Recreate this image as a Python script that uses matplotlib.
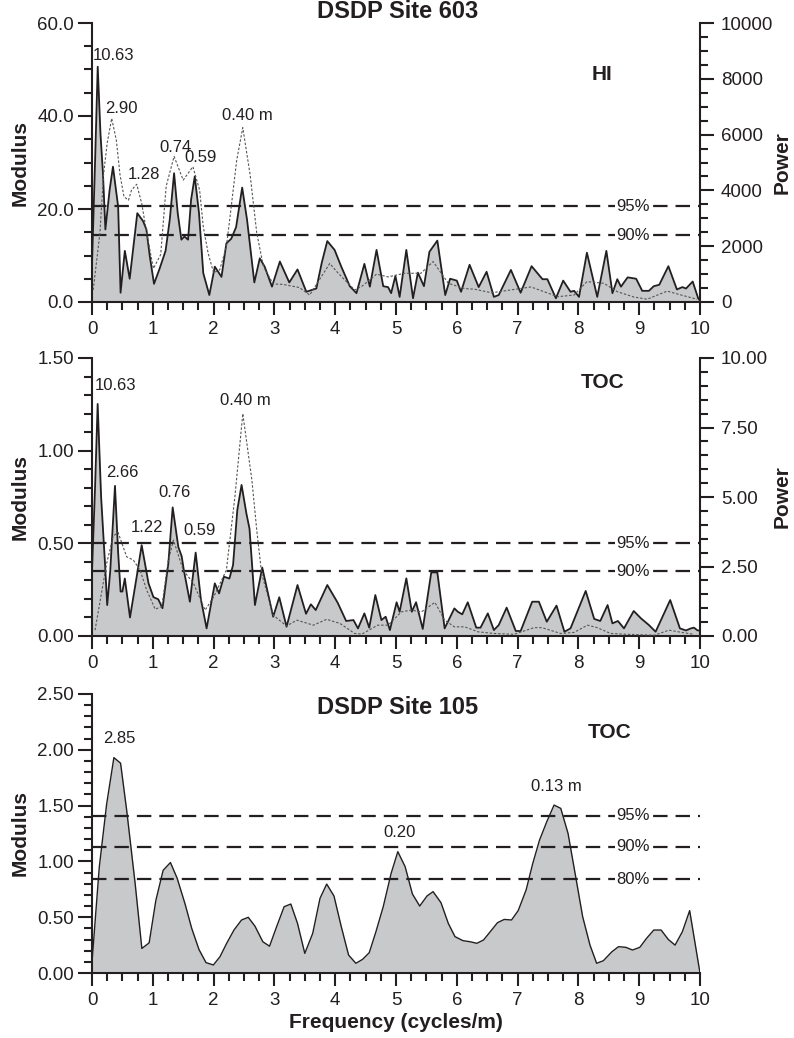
import matplotlib
matplotlib.use("Agg")
import matplotlib.pyplot as plt
from matplotlib.ticker import MultipleLocator, FormatStrFormatter

plt.rcParams['font.family'] = ['Liberation Sans', 'DejaVu Sans']

INK = '#231f20'
FILL = '#c8c9cb'
DOT = '#555555'

# ---------------- DATA ----------------
# DSDP Site 603, HI: modulus spectrum (solid, filled)
hi_freq = [0, 0.05, 0.094, 0.14, 0.18, 0.22, 0.29, 0.345, 0.43, 0.47, 0.54, 0.62, 0.745, 0.84,
           0.895, 0.95, 1.02, 1.11, 1.21, 1.28, 1.35, 1.41, 1.47, 1.52, 1.58, 1.63, 1.69, 1.76,
           1.83, 1.93, 2.02, 2.13, 2.21, 2.29, 2.37, 2.47, 2.55, 2.67, 2.76, 2.84, 2.96, 3.09,
           3.245, 3.38, 3.525, 3.69, 3.78, 3.87, 3.99, 4.10, 4.24, 4.35, 4.48, 4.57, 4.68, 4.79,
           4.87, 4.92, 4.99, 5.06, 5.17, 5.28, 5.36, 5.46, 5.55, 5.68, 5.81, 5.89, 6.0, 6.07,
           6.21, 6.36, 6.49, 6.61, 6.69, 6.89, 7.05, 7.23, 7.41, 7.49, 7.63, 7.75, 7.87, 7.93,
           8.01, 8.14, 8.31, 8.46, 8.56, 8.64, 8.70, 8.81, 8.95, 9.05, 9.16, 9.24, 9.33, 9.48,
           9.62, 9.71, 9.77, 9.88, 9.97, 10.0]
hi_modulus = [8, 30, 50.6, 36, 27.7, 15.6, 24.1, 29.1, 20.5, 2.0, 11.0, 5.0, 19.1, 17.4,
              15.6, 9.9, 3.9, 7.1, 11.0, 17.8, 27.7, 19.1, 13.4, 14.1, 13.4, 22.0, 27.0, 19.1,
              6.2, 1.5, 7.6, 5.4, 12.6, 13.6, 16.1, 24.6, 17.7, 4.2, 9.4, 7.6, 3.3, 8.7,
              4.2, 7.0, 2.2, 2.9, 8.5, 13.1, 11.2, 7.6, 3.4, 1.9, 8.2, 3.3, 11.2, 3.4,
              3.2, 1.9, 5.6, 1.1, 11.2, 0.8, 6.3, 3.4, 10.8, 13.2, 1.5, 5.0, 4.6, 2.2,
              8.0, 3.2, 6.5, 1.1, 1.5, 6.9, 2.0, 7.7, 4.9, 4.9, 0.8, 4.6, 2.2, 2.4,
              1.1, 10.6, 1.1, 11.0, 1.9, 4.9, 3.3, 5.3, 5.0, 2.4, 2.4, 3.4, 3.7, 7.7,
              2.7, 3.2, 2.9, 4.4, 0.8, 0.3]

# DSDP Site 603, HI: power spectrum (dotted, right axis)
hi_pfreq = [0.02, 0.13, 0.19, 0.25, 0.324, 0.40, 0.46, 0.526, 0.60, 0.65, 0.735, 0.817, 0.90,
            1.01, 1.13, 1.22, 1.35, 1.50, 1.66, 1.77, 1.83, 1.91, 2.0, 2.1, 2.21, 2.27, 2.38,
            2.48, 2.60, 2.71, 2.82, 2.98, 3.14, 3.41, 3.58, 3.77, 3.91, 4.05, 4.32, 4.45, 4.68,
            4.87, 5.14, 5.41, 5.61, 5.86, 6.13, 6.29, 6.57, 6.85, 7.22, 7.66, 7.93, 8.14, 8.42,
            8.64, 8.91, 9.13, 9.46, 9.69, 9.95]
hi_power = [430, 2470, 4570, 5700, 6580, 5800, 4570, 3770, 3650, 4010, 4220, 3540, 2470,
            1200, 1700, 4150, 5220, 4370, 4850, 4010, 2700, 1750, 1050, 1150, 1980, 3050, 5080,
            6250, 4570, 2470, 1270, 650, 630, 520, 250, 900, 1380, 1030, 430, 580, 1000,
            900, 1030, 1030, 1450, 670, 480, 460, 330, 420, 540, 190, 250, 730, 670,
            370, 180, 100, 390, 250, 100]

# DSDP Site 603, TOC: modulus spectrum
toc603_freq = [0, 0.05, 0.093, 0.15, 0.214, 0.25, 0.30, 0.378, 0.43, 0.47, 0.50, 0.54, 0.625,
               0.735, 0.817, 0.93, 1.01, 1.09, 1.16, 1.255, 1.327, 1.42, 1.475, 1.51, 1.61,
               1.705, 1.79, 1.885, 2.02, 2.09, 2.17, 2.26, 2.32, 2.39, 2.46, 2.54, 2.59, 2.68,
               2.80, 2.98, 3.08, 3.20, 3.38, 3.52, 3.60, 3.68, 3.87, 4.04, 4.18, 4.30, 4.375,
               4.48, 4.56, 4.66, 4.76, 4.83, 4.90, 5.01, 5.06, 5.17, 5.26, 5.33, 5.44, 5.58,
               5.68, 5.80, 5.96, 6.02, 6.09, 6.18, 6.32, 6.39, 6.51, 6.61, 6.69, 6.82, 6.97,
               7.05, 7.24, 7.35, 7.48, 7.64, 7.77, 7.87, 8.12, 8.26, 8.36, 8.48, 8.56, 8.65,
               8.75, 8.91, 9.03, 9.16, 9.27, 9.51, 9.67, 9.77, 9.85, 9.90, 9.96, 10.0]
toc603_modulus = [0.35, 0.80, 1.252, 0.75, 0.39, 0.167, 0.35, 0.81, 0.45, 0.24, 0.24, 0.31, 0.10,
                  0.32, 0.49, 0.284, 0.21, 0.198, 0.15, 0.39, 0.694, 0.48, 0.43, 0.356, 0.185,
                  0.45, 0.20, 0.041, 0.284, 0.23, 0.32, 0.31, 0.383, 0.68, 0.815, 0.66, 0.58, 0.167,
                  0.369, 0.104, 0.209, 0.05, 0.275, 0.12, 0.171, 0.14, 0.275, 0.18, 0.081, 0.086, 0.041,
                  0.122, 0.045, 0.221, 0.086, 0.104, 0.032, 0.182, 0.131, 0.311, 0.131, 0.182, 0.038, 0.343,
                  0.343, 0.041, 0.149, 0.13, 0.117, 0.182, 0.045, 0.045, 0.122, 0.032, 0.059, 0.153, 0.027,
                  0.027, 0.185, 0.185, 0.077, 0.164, 0.023, 0.041, 0.243, 0.092, 0.081, 0.167, 0.068, 0.081,
                  0.041, 0.135, 0.095, 0.059, 0.023, 0.194, 0.041, 0.03, 0.041, 0.045, 0.03, 0.03]

# DSDP Site 603, TOC: power spectrum (dotted, right axis)
toc603_pfreq = [0.05, 0.24, 0.35, 0.43, 0.57, 0.68, 0.79, 0.90, 1.04, 1.15, 1.25, 1.34, 1.50,
                1.67, 1.86, 2.0, 2.21, 2.35, 2.48, 2.63, 2.71, 2.79, 2.98, 3.20, 3.37, 3.64, 3.86,
                4.08, 4.32, 4.44, 4.70, 4.87, 5.09, 5.25, 5.42, 5.64, 5.80, 5.96, 6.13, 6.35, 6.62,
                6.94, 7.27, 7.40, 7.71, 7.93, 8.15, 8.31, 8.53, 8.81, 9.25, 9.49, 9.70, 9.90]
toc603_power = [0.21, 2.6, 3.6, 3.72, 2.85, 2.73, 2.37, 1.65, 0.96, 1.07, 2.67, 3.45, 2.37,
                1.89, 0.93, 1.40, 2.37, 5.0, 8.0, 5.6, 3.8, 2.25, 0.75, 0.36, 0.57, 0.39, 0.60,
                0.45, 0.09, 0.07, 0.39, 0.39, 0.87, 0.93, 0.87, 1.21, 0.57, 0.33, 0.33, 0.15, 0.09,
                0.06, 0.30, 0.30, 0.09, 0.13, 0.39, 0.30, 0.09, 0.06, 0.03, 0.21, 0.13, 0.06]

# DSDP Site 105, TOC: modulus spectrum
toc105_freq = [0, 0.12, 0.24, 0.36, 0.47, 0.57, 0.71, 0.82, 0.94, 1.05, 1.17, 1.29, 1.40, 1.53,
               1.64, 1.76, 1.875, 1.996, 2.105, 2.215, 2.335, 2.46, 2.57, 2.68, 2.81, 2.92, 3.04,
               3.16, 3.27, 3.38, 3.50, 3.63, 3.75, 3.86, 3.98, 4.10, 4.22, 4.34, 4.45, 4.56, 4.67,
               4.79, 4.92, 5.03, 5.15, 5.27, 5.39, 5.51, 5.61, 5.74, 5.86, 5.97, 6.10, 6.22, 6.33,
               6.44, 6.55, 6.67, 6.78, 6.90, 7.01, 7.14, 7.25, 7.36, 7.48, 7.60, 7.71, 7.83, 7.96,
               8.07, 8.19, 8.30, 8.41, 8.55, 8.66, 8.78, 8.89, 9.01, 9.12, 9.24, 9.36, 9.48, 9.59,
               9.71, 9.83, 10.0]
toc105_modulus = [0.10, 0.95, 1.51, 1.93, 1.88, 1.46, 0.80, 0.22, 0.27, 0.65, 0.92, 0.99, 0.85, 0.62,
                  0.40, 0.21, 0.093, 0.072, 0.146, 0.266, 0.385, 0.475, 0.499, 0.42, 0.28, 0.24, 0.42,
                  0.594, 0.618, 0.445, 0.176, 0.355, 0.669, 0.797, 0.69, 0.415, 0.161, 0.087, 0.122, 0.182, 0.37,
                  0.594, 0.893, 1.087, 0.953, 0.708, 0.60, 0.69, 0.729, 0.63, 0.445, 0.326, 0.29, 0.28, 0.266,
                  0.296, 0.37, 0.451, 0.48, 0.475, 0.559, 0.744, 0.983, 1.19, 1.356, 1.505, 1.475, 1.25, 0.848,
                  0.505, 0.251, 0.087, 0.11, 0.19, 0.236, 0.23, 0.206, 0.23, 0.31, 0.385, 0.385, 0.30, 0.25,
                  0.37, 0.559, 0.0]

# significance levels
hi_levels = [20.6, 14.4]
hi_level_names = ['95%', '90%']
toc603_levels = [0.50, 0.35]
toc603_level_names = ['95%', '90%']
toc105_levels = [1.41, 1.13, 0.84]
toc105_level_names = ['95%', '90%', '80%']

# peak labels (period in m): text, frequency, height
hi_peaks = [('10.63', 0.36, 53.1), ('2.90', 0.49, 41.7), ('1.28', 0.855, 27.5),
            ('0.74', 1.38, 33.3), ('0.59', 1.79, 31.0), ('0.40 m', 2.56, 40.0)]
toc603_peaks = [('10.63', 0.386, 1.349), ('2.66', 0.50, 0.882), ('1.22', 0.90, 0.588),
                ('0.76', 1.365, 0.774), ('0.59', 1.776, 0.567), ('0.40 m', 2.53, 1.269)]
toc105_peaks = [('2.85', 0.456, 2.097), ('0.20', 5.066, 1.257), ('0.13 m', 7.643, 1.669)]

# ---------------- FIGURE ----------------
W, H = 794, 1038
fig = plt.figure(figsize=(W / 100, H / 100), dpi=100)


def px_axes(top, bottom):
    return [92 / W, 1 - bottom / H, 608 / W, (bottom - top) / H]


TICK_FS = 13.5
LW_SPINE = 1.5


def style_axis(ax, ymax, ymaj, ymin, yfmt):
    ax.set_xlim(0, 10)
    ax.set_ylim(0, ymax)
    for s in ['top', 'right']:
        ax.spines[s].set_visible(False)
    for s in ['left', 'bottom']:
        ax.spines[s].set_linewidth(LW_SPINE)
        ax.spines[s].set_color(INK)
    ax.xaxis.set_major_locator(MultipleLocator(1))
    ax.xaxis.set_minor_locator(MultipleLocator(0.25))
    ax.yaxis.set_major_locator(MultipleLocator(ymaj))
    ax.yaxis.set_minor_locator(MultipleLocator(ymin))
    ax.yaxis.set_major_formatter(FormatStrFormatter(yfmt))
    ax.tick_params(which='major', direction='out', length=10, width=LW_SPINE, color=INK,
                   labelsize=TICK_FS, labelcolor=INK, pad=3)
    ax.tick_params(which='minor', direction='out', length=6, width=LW_SPINE, color=INK)
    ax.tick_params(axis='x', which='major', length=9, pad=5)
    ax.set_facecolor('none')


def style_right(ax2, ymax, ymaj, ymin, yfmt):
    ax2.set_ylim(0, ymax)
    for s in ['top', 'left', 'bottom']:
        ax2.spines[s].set_visible(False)
    ax2.spines['right'].set_linewidth(LW_SPINE)
    ax2.spines['right'].set_color(INK)
    ax2.yaxis.set_major_locator(MultipleLocator(ymaj))
    ax2.yaxis.set_minor_locator(MultipleLocator(ymin))
    ax2.yaxis.set_major_formatter(FormatStrFormatter(yfmt))
    ax2.tick_params(which='major', direction='out', length=10, width=LW_SPINE, color=INK,
                    labelsize=TICK_FS, labelcolor=INK, pad=5)
    ax2.tick_params(which='minor', direction='out', length=6, width=LW_SPINE, color=INK)


def draw_spectrum(ax, f, m):
    ax.fill_between(f, m, 0, color=FILL, linewidth=0, zorder=1)
    ax.plot(f, m, color=INK, lw=1.3, zorder=3, solid_joinstyle='round')


def draw_levels(ax, levels, names):
    for lv, nm in zip(levels, names):
        ax.axhline(lv, color=INK, lw=1.6, dashes=(6.5, 3.6), zorder=4)
        ax.text(8.89, lv, nm, ha='center', va='center', fontsize=12, color=INK, zorder=5,
                bbox=dict(facecolor='white', edgecolor='none', pad=0.2))


def draw_peaks(ax, peaks):
    for txt, fx, my in peaks:
        ax.text(fx, my, txt, ha='center', va='center', fontsize=12, color=INK, zorder=6)


# --- Panel 1: Site 603 HI ---
ax1 = fig.add_axes(px_axes(23, 302))
style_axis(ax1, 60, 20, 5, '%.1f')
draw_spectrum(ax1, hi_freq, hi_modulus)
draw_levels(ax1, hi_levels, hi_level_names)
draw_peaks(ax1, hi_peaks)
ax1r = ax1.twinx()
style_right(ax1r, 10000, 2000, 500, '%d')
ax1r.plot(hi_pfreq, hi_power, color=DOT, lw=0.8, ls=(0, (2.2, 1.6)), zorder=2)

# --- Panel 2: Site 603 TOC ---
ax2 = fig.add_axes(px_axes(358, 636))
style_axis(ax2, 1.5, 0.5, 0.1, '%.2f')
draw_spectrum(ax2, toc603_freq, toc603_modulus)
draw_levels(ax2, toc603_levels, toc603_level_names)
draw_peaks(ax2, toc603_peaks)
ax2r = ax2.twinx()
style_right(ax2r, 10, 2.5, 0.5, '%.2f')
ax2r.plot(toc603_pfreq, toc603_power, color=DOT, lw=0.8, ls=(0, (2.2, 1.6)), zorder=2)

# --- Panel 3: Site 105 TOC ---
ax3 = fig.add_axes(px_axes(694, 973))
style_axis(ax3, 2.5, 0.5, 0.1, '%.2f')
ax3.fill_between(toc105_freq, toc105_modulus, 0, color=FILL, linewidth=0, zorder=1)
ax3.plot(toc105_freq, toc105_modulus, color=INK, lw=1.0, zorder=3)
draw_levels(ax3, toc105_levels, toc105_level_names)
draw_peaks(ax3, toc105_peaks)

# --- texts ---
def ftext(x, y, s, **kw):
    fig.text(x / W, 1 - y / H, s, color=INK, **kw)

ftext(397.5, 12, 'DSDP Site 603', ha='center', va='center', fontsize=17, fontweight='bold')
ftext(397.5, 708, 'DSDP Site 105', ha='center', va='center', fontsize=17, fontweight='bold')
ftext(602, 74, 'HI', ha='center', va='center', fontsize=15, fontweight='bold')
ftext(602.5, 382, 'TOC', ha='center', va='center', fontsize=15, fontweight='bold')
ftext(610, 732, 'TOC', ha='center', va='center', fontsize=15, fontweight='bold')

for yc in [(23 + 302) / 2, (358 + 636) / 2, (694 + 973) / 2]:
    ftext(20, yc, 'Modulus', ha='center', va='center', rotation=90, fontsize=15, fontweight='bold')
for yc in [(23 + 302) / 2, (358 + 636) / 2]:
    ftext(782, yc, 'Power', ha='center', va='center', rotation=90, fontsize=15, fontweight='bold')
ftext(396, 1023, 'Frequency (cycles/m)', ha='center', va='center', fontsize=15, fontweight='bold')

fig.savefig('out.png', dpi=100)
